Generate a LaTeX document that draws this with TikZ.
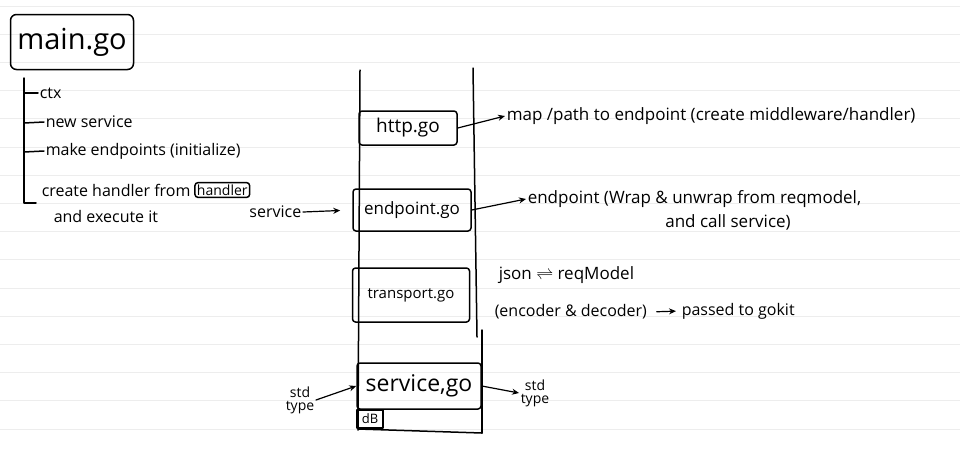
\documentclass[tikz,border=0pt]{standalone}
\usepackage{fontspec}
\setmainfont{Open Sans}
\usetikzlibrary{arrows.meta}
\begin{document}
\begin{tikzpicture}[x=1pt,y=-1pt,line width=1.5pt,line cap=round,line join=round,
  txt/.style={inner sep=1pt,font=\fontsize{16}{18}\selectfont},
  note/.style={inner sep=1pt,font=\fontsize{17}{19}\selectfont},
  small/.style={inner sep=1pt,font=\fontsize{14}{13}\selectfont,align=center},
  file/.style={draw,rounded corners=3pt,inner sep=0pt},
  conn/.style={-{Stealth[length=7pt,width=6pt]},line width=1.2pt}]
\useasboundingbox (0,0) rectangle (960,456);
\foreach \k in {0,...,15} \draw[line width=0.8pt,black!7] (0,6+28.2*\k) -- (960,6+28.2*\k);
% main.go and its list
\node[file,rounded corners=6pt,minimum width=123,minimum height=55,font=\fontsize{29}{31}\selectfont] (main) at (72,42) {main.go};
\node[txt,anchor=west] (ctx) at (38,93) {ctx};
\node[txt,anchor=west] (ns) at (44,122) {new service};
\node[txt,anchor=west] (me) at (44,151) {make endpoints (initialize)};
\node[txt,anchor=west] (ch) at (40,190) {create handler from};
\node[file,anchor=west,inner sep=2pt,font=\fontsize{14}{16}\selectfont] (hd) at ([xshift=2pt]ch.east) {handler};
\node[txt,anchor=west] (ex) at (52,216) {and execute it};
\draw (24,78) -- (24,203) -- (36,203);
\draw (24,93) -- (ctx.west);
\draw (24,123) -- (ns.west);
\draw (24,152) -- (me.west);
% column
\draw (360,70) -- (358,430);
\draw (473,68) -- (477,337);
\draw (482,330) -- (482,433);
\draw (358,429) -- (482,433);
% files
\node[file,minimum width=98,minimum height=34,font=\fontsize{19}{21}\selectfont] (http) at (408,128) {http.go};
\node[file,minimum width=118,minimum height=42,font=\fontsize{17}{19}\selectfont] (ep) at (412,210) {endpoint.go};
\node[file,minimum width=117,minimum height=54,font=\fontsize{15}{17}\selectfont] (tr) at (411,295) {transport.go};
\node[file,minimum width=124,minimum height=46,font=\fontsize{23}{25}\selectfont] (svc) at (419,386) {service,go};
\node[draw,inner sep=1pt,minimum width=26,minimum height=18,font=\fontsize{13}{13}\selectfont] (db) at (370,419) {dB};
% right notes
\node[note,anchor=west] (map) at (505,116) {map /path to endpoint (create middleware/handler)};
\node[note,anchor=west] (ep1) at (526,199) {endpoint (Wrap \& unwrap from reqmodel,};
\node[note] (ep2) at (728,222) {and call service)};
\node[note,anchor=west] (json) at (497,275) {json $\rightleftharpoons$ reqModel};
\node[txt,anchor=west] (enc) at (493,312) {(encoder \& decoder)};
\node[txt,anchor=west] (gk) at (680,311) {passed to gokit};
\node[txt,anchor=east] (svin) at (303,212) {service};
\node[small] (stdl) at (300,400) {std\\type};
\node[small] (stdr) at (535,393) {std\\type};
% connectors
\draw[conn] (http.east) -- (map.west);
\draw[conn] (ep.east) -- (ep1.west);
\draw[conn,shorten >=12pt] (svin.east) -- (ep.west);
\draw[conn,shorten <=8pt,shorten >=4pt] (enc.east) -- (gk.west);
\draw[conn] (stdl.east) -- (svc.west);
\draw[conn] (svc.east) -- (stdr.west);
\end{tikzpicture}
\end{document}
